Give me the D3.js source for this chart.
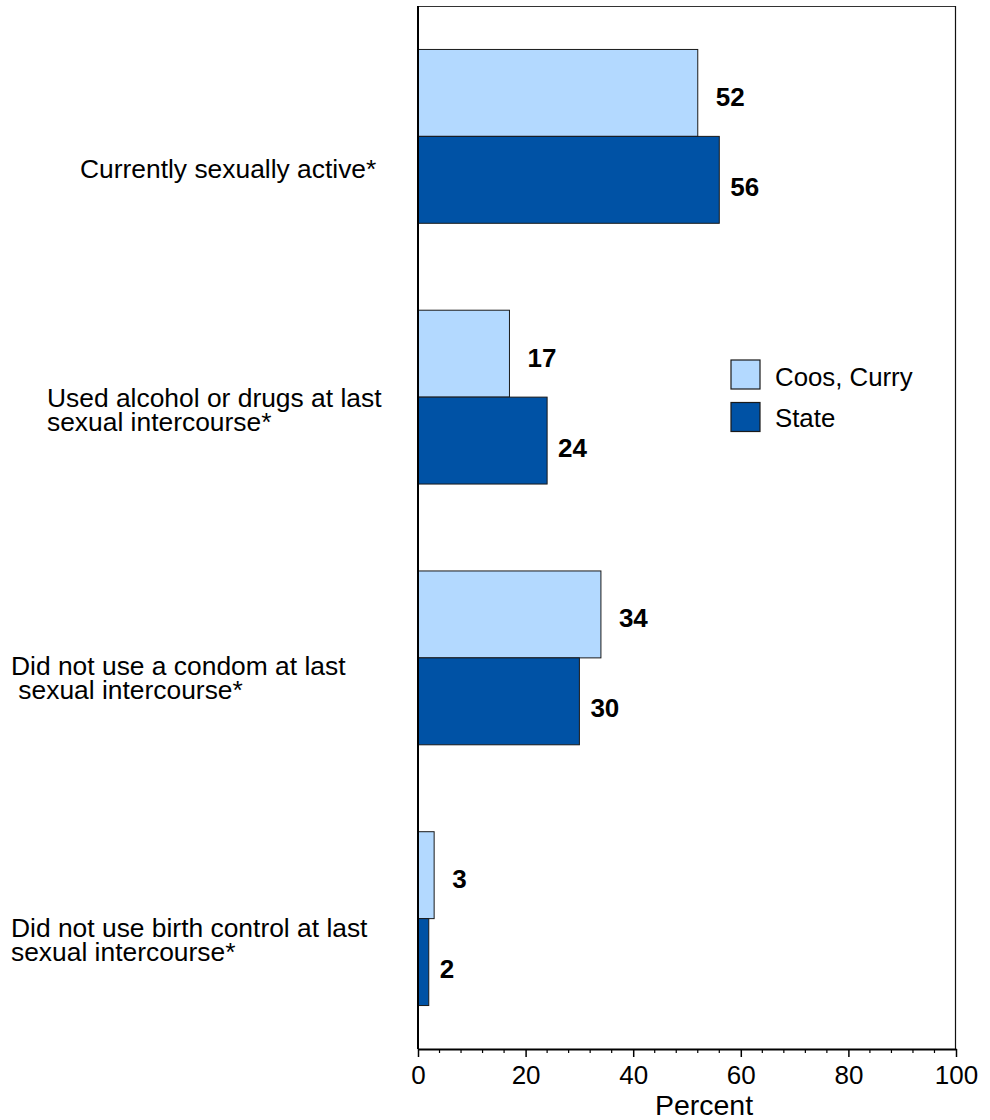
<!DOCTYPE html>
<html>
<head>
<meta charset="utf-8">
<script src="https://cdn.jsdelivr.net/npm/d3@7"></script>
<style>
  body { margin: 0; background: #fff; }
  svg { display: block; font-family: "Liberation Sans", Arial, sans-serif; }
  text { white-space: pre; }
</style>
</head>
<body>
<svg id="chart" width="990" height="1120"></svg>
<script>
// ---- data ----
const categories = [
  ["Currently sexually active*"],
  ["Used alcohol or drugs at last", "sexual intercourse*"],
  ["Did not use a condom at last", " sexual intercourse*"],
  ["Did not use birth control at last", "sexual intercourse*"]
];
const seriesNames = ["Coos, Curry", "State"];
const coosCurry = [52, 17, 34, 3];
const state = [56, 24, 30, 2];
const xTicks = [0, 20, 40, 60, 80, 100];
const xAxisTitle = "Percent";

// ---- layout ----
const colors = ["#B3D9FF", "#0052A5"];
const labelX = [80, 47, 11, 11];
const labelDy = [41.5, 9.5, 17.5, 18];
const valueOffset = [18, 11];
const valueDy = [13, 16];

const svg = d3.select("#chart");
const pLeft = 418, pRight = 956, pTop = 6, pBottom = 1049;

const x = d3.scaleLinear().domain([0, 100]).range([pLeft, pRight]);
const y = d3.scaleBand().domain(d3.range(categories.length)).range([pTop, pBottom])
  .paddingInner(1/3).paddingOuter(1/6);
const ySub = d3.scaleBand().domain([0, 1]).range([0, y.bandwidth()]);

const series = [coosCurry, state];

// frame (top and right)
svg.append("line").attr("x1", pLeft).attr("x2", pRight).attr("y1", pTop + 0.5).attr("y2", pTop + 0.5)
  .attr("stroke", "#333").attr("stroke-width", 1.2);
svg.append("line").attr("x1", pRight - 0.5).attr("x2", pRight - 0.5).attr("y1", pTop).attr("y2", pBottom)
  .attr("stroke", "#111").attr("stroke-width", 1.2);

// bars
series.forEach((vals, si) => {
  const g = svg.append("g");
  g.selectAll("rect").data(vals).join("rect")
    .attr("x", x(0))
    .attr("y", (d, i) => y(i) + ySub(si))
    .attr("width", d => x(d) - x(0))
    .attr("height", ySub.bandwidth())
    .attr("fill", colors[si])
    .attr("stroke", "#1a1a1a")
    .attr("stroke-width", 1);
  g.selectAll("text").data(vals).join("text")
    .attr("x", d => x(d) + valueOffset[si])
    .attr("y", (d, i) => y(i) + ySub(si) + ySub.bandwidth() / 2 + valueDy[si])
    .attr("font-size", 26)
    .attr("font-weight", "bold")
    .attr("fill", "#000")
    .text(d => d);
});

// left axis line
svg.append("line").attr("x1", pLeft).attr("x2", pLeft).attr("y1", pTop).attr("y2", pBottom)
  .attr("stroke", "#000").attr("stroke-width", 2);

// x axis
const xAxis = d3.axisBottom(x).tickValues(xTicks).tickSize(8).tickPadding(9).tickSizeOuter(0);
const gx = svg.append("g").attr("transform", `translate(0,${pBottom})`).call(xAxis);
gx.select(".domain").attr("stroke", "#000").attr("stroke-width", 2);
gx.selectAll(".tick line").attr("stroke", "#000").attr("stroke-width", 1.5);
gx.selectAll(".tick text").attr("font-size", 26).attr("font-family", "Liberation Sans, Arial, sans-serif").attr("fill", "#000");
// minor ticks
const minor = d3.range(0, 101, 4).filter(v => v % 20 !== 0);
svg.append("g").selectAll("line").data(minor).join("line")
  .attr("x1", d => x(d)).attr("x2", d => x(d))
  .attr("y1", pBottom).attr("y2", pBottom + 4)
  .attr("stroke", "#000").attr("stroke-width", 1.2);

svg.append("text").attr("x", (pLeft + pRight) / 2 + 17).attr("y", 1115)
  .attr("text-anchor", "middle").attr("font-size", 28.5).attr("fill", "#000").text(xAxisTitle);

// category labels
categories.forEach((lines, i) => {
  const t = svg.append("text").attr("font-size", 26.4).attr("fill", "#000");
  lines.forEach((ln, k) => {
    t.append("tspan").attr("x", labelX[i])
      .attr("y", y(i) + y.bandwidth() / 2 + labelDy[i] + k * 24)
      .text(ln);
  });
});

// legend
const legend = svg.append("g");
seriesNames.forEach((name, i) => {
  legend.append("rect").attr("x", 731).attr("y", 360 + i * 42.5).attr("width", 29).attr("height", 29)
    .attr("fill", colors[i]).attr("stroke", "#1a1a1a").attr("stroke-width", 1.2);
  legend.append("text").attr("x", 775).attr("y", 385.5 + i * 41.5)
    .attr("font-size", 25.8).attr("fill", "#000").text(name);
});
</script>
</body>
</html>
